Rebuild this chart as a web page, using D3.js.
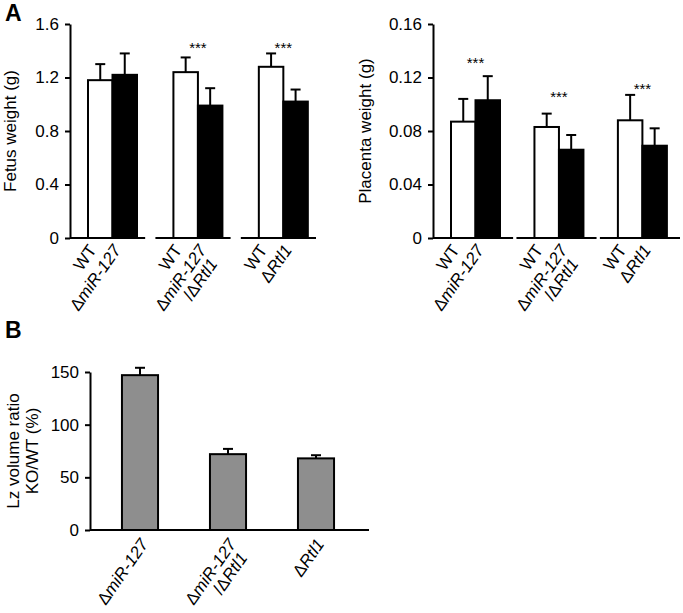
<!DOCTYPE html>
<html>
<head>
<meta charset="utf-8">
<script src="https://cdn.jsdelivr.net/npm/d3@7"></script>
<style>
  body { margin: 0; background: #fff; }
  svg { font-family: "Liberation Sans", Arial, sans-serif; }
</style>
</head>
<body>
<div id="fig"></div>
<script>
var W = 683, H = 613;

// panel A
var groups = ['miR127', 'double', 'Rtl1'];
var fetusWT = [1.18, 1.24, 1.28];
var fetusWTErr = [0.12, 0.11, 0.10];
var fetusKO = [1.22, 0.99, 1.02];
var fetusKOErr = [0.16, 0.13, 0.09];
var fetusStars = [null, 1.38, 1.38];
var fetusTicks = [0, 0.4, 0.8, 1.2, 1.6];

var placentaWT = [0.087, 0.083, 0.088];
var placentaWTErr = [0.017, 0.010, 0.019];
var placentaKO = [0.103, 0.066, 0.069];
var placentaKOErr = [0.018, 0.011, 0.013];
var placentaStars = [0.127, 0.102, 0.108];
var placentaTicks = [0, 0.04, 0.08, 0.12, 0.16];

// panel B
var lzRatio = [147, 72, 68];
var lzErr = [7, 5, 3];
var lzTicks = [0, 50, 100, 150];

// label pieces: [text, italic]
var koLabels = [
  [[['Δ', 0], ['miR-127', 1]]],
  [[['Δ', 0], ['miR-127', 1]], [['/Δ', 0], ['Rtl1', 1]]],
  [[['Δ', 0], ['Rtl1', 1]]]
];
var wtLabel = [[['WT', 0]]];

var FS = 17;

var svg = d3.select("#fig").append("svg")
  .attr("width", W).attr("height", H);

svg.append("text").attr("x", 5).attr("y", 21).text("A")
  .attr("font-size", 23).attr("font-weight", "bold");
svg.append("text").attr("x", 5).attr("y", 338).text("B")
  .attr("font-size", 23).attr("font-weight", "bold");

function label(g, lines, x, y, dxLine) {
  var t = g.append("text")
    .attr("transform", "translate(" + x + "," + y + ") rotate(-55)")
    .attr("text-anchor", "end").attr("font-size", FS);
  lines.forEach(function(line, i) {
    line.forEach(function(p, j) {
      var s = t.append("tspan").text(p[0])
        .attr("font-style", p[1] ? "italic" : "normal");
      if (j == 0 && i > 0) s.attr("x", dxLine).attr("dy", 17);
    });
  });
}

function panel(o) {
  var g = svg.append("g");
  var y = d3.scaleLinear().domain(o.domain).range([238, 24]);
  var x = d3.scaleBand().domain(groups).range([o.x0, o.x1]).paddingInner(o.pad);
  var inner = d3.scaleBand().domain(['WT', 'KO']).range([18, 67]);

  var ax = g.append("g").attr("transform", "translate(" + o.x0 + ",0)")
    .call(d3.axisLeft(y).tickValues(o.ticks).tickFormat(function(d) { return d; })
      .tickSize(5).tickSizeOuter(0).tickPadding(6));
  ax.selectAll("path, line").attr("stroke", "#000").attr("stroke-width", 2);
  ax.selectAll("text").attr("font-size", FS).attr("fill", "#000");

  g.append("text")
    .attr("transform", "translate(" + o.labelX + ",131) rotate(-90)")
    .attr("text-anchor", "middle").attr("font-size", FS).text(o.title);

  groups.forEach(function(k, i) {
    var gx = x(k);
    g.append("line").attr("x1", gx).attr("x2", gx + x.bandwidth())
      .attr("y1", y(0)).attr("y2", y(0)).attr("stroke", "#000").attr("stroke-width", 2);
    [['WT', o.wt[i], o.wtErr[i], '#fff'], ['KO', o.ko[i], o.koErr[i], '#000']].forEach(function(b) {
      var bx = gx + inner(b[0]), bw = inner.bandwidth(), cx = bx + bw / 2;
      g.append("line").attr("x1", cx).attr("x2", cx)
        .attr("y1", y(b[1])).attr("y2", y(b[1] + b[2]))
        .attr("stroke", "#000").attr("stroke-width", 2);
      g.append("line").attr("x1", cx - 5).attr("x2", cx + 5)
        .attr("y1", y(b[1] + b[2])).attr("y2", y(b[1] + b[2]))
        .attr("stroke", "#000").attr("stroke-width", 2);
      g.append("rect").attr("x", bx).attr("width", bw)
        .attr("y", y(b[1])).attr("height", y(0) - y(b[1]))
        .attr("fill", b[3]).attr("stroke", "#000").attr("stroke-width", 2);
    });
    if (o.stars[i] != null) {
      g.append("text").attr("x", gx + inner('KO')).attr("y", y(o.stars[i]))
        .attr("text-anchor", "middle").attr("font-size", 15).text("***");
    }
    label(g, wtLabel, gx + inner('WT') + inner.bandwidth() / 2 - 3, y(0) + 12, 0);
    label(g, koLabels[i], gx + inner('KO') + inner.bandwidth() / 2 - 3, y(0) + 12, -5);
  });
}

panel({ domain: [0, 1.6], ticks: fetusTicks, x0: 70, x1: 316, pad: 0.12,
  wt: fetusWT, wtErr: fetusWTErr, ko: fetusKO, koErr: fetusKOErr, stars: fetusStars,
  title: "Fetus weight (g)", labelX: 16 });
panel({ domain: [0, 0.16], ticks: placentaTicks, x0: 433, x1: 680, pad: 0.04,
  wt: placentaWT, wtErr: placentaWTErr, ko: placentaKO, koErr: placentaKOErr, stars: placentaStars,
  title: "Placenta weight (g)", labelX: 371 });

// panel B
var gb = svg.append("g");
var yb = d3.scaleLinear().domain([0, 150]).range([530, 372]);
var xb = d3.scaleBand().domain(groups).range([96, 360]).paddingInner(0.59).paddingOuter(0.295);

var axb = gb.append("g").attr("transform", "translate(90,0)")
  .call(d3.axisLeft(yb).tickValues(lzTicks).tickSize(5).tickSizeOuter(0).tickPadding(6));
axb.selectAll("path, line").attr("stroke", "#000").attr("stroke-width", 2);
axb.selectAll("text").attr("font-size", FS).attr("fill", "#000");

gb.append("line").attr("x1", 90).attr("x2", 369).attr("y1", yb(0)).attr("y2", yb(0))
  .attr("stroke", "#000").attr("stroke-width", 2);

var yl = gb.append("text").attr("transform", "translate(0,451) rotate(-90)")
  .attr("text-anchor", "middle").attr("font-size", FS);
yl.append("tspan").attr("x", 0).attr("y", 19).text("Lz volume ratio");
yl.append("tspan").attr("x", 0).attr("y", 38).text("KO/WT (%)");

groups.forEach(function(k, i) {
  var bx = xb(k), bw = xb.bandwidth(), cx = bx + bw / 2;
  gb.append("line").attr("x1", cx).attr("x2", cx)
    .attr("y1", yb(lzRatio[i])).attr("y2", yb(lzRatio[i] + lzErr[i]))
    .attr("stroke", "#000").attr("stroke-width", 2);
  gb.append("line").attr("x1", cx - 5).attr("x2", cx + 5)
    .attr("y1", yb(lzRatio[i] + lzErr[i])).attr("y2", yb(lzRatio[i] + lzErr[i]))
    .attr("stroke", "#000").attr("stroke-width", 2);
  gb.append("rect").attr("x", bx).attr("width", bw)
    .attr("y", yb(lzRatio[i])).attr("height", yb(0) - yb(lzRatio[i]))
    .attr("fill", "#8e8e8e").attr("stroke", "#000").attr("stroke-width", 2);
  label(gb, koLabels[i], cx + 9, yb(0) + 14, -5);
});
</script>
</body>
</html>
